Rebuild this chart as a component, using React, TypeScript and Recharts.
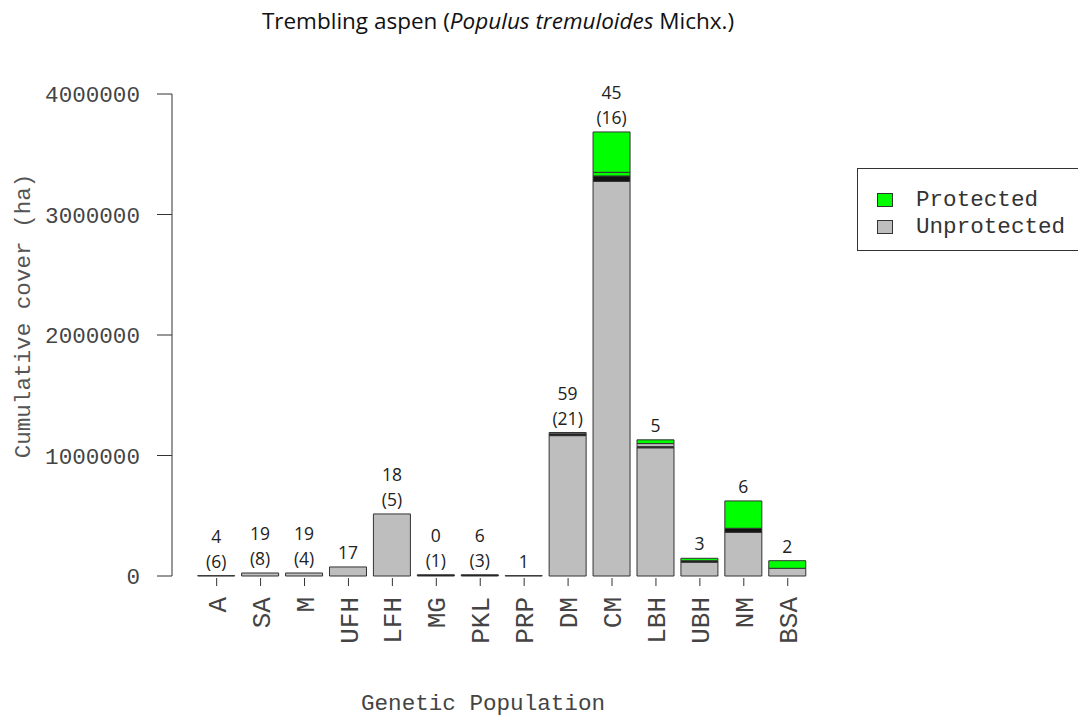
import { Bar, BarChart, LabelList, Legend, XAxis, YAxis } from 'recharts';

// genetic populations along the x axis
const populations = ['A', 'SA', 'M', 'UFH', 'LFH', 'MG', 'PKL', 'PRP', 'DM', 'CM', 'LBH', 'UBH', 'NM', 'BSA'];

// cumulative cover (ha), stacked bottom to top
const unprotectedMain = [3000, 25000, 25000, 75000, 515000, 0, 0, 3000, 1165000, 3275000, 1064000, 115000, 363000, 64000];
const slivers = [0, 0, 0, 0, 0, 10000, 10000, 0, 15000, 45000, 10000, 12000, 33000, 0];
const unprotectedUpper = [0, 0, 0, 0, 0, 0, 0, 0, 11000, 0, 25000, 0, 0, 0];
const protectedSmall = [0, 0, 0, 0, 0, 0, 0, 0, 0, 30000, 0, 0, 0, 0];
const protectedMain = [0, 0, 0, 0, 0, 0, 0, 0, 0, 335000, 31000, 20000, 227000, 63000];

// counts printed over each bar
const countUpper = ['4', '19', '19', '17', '18', '0', '6', '1', '59', '45', '5', '3', '6', '2'];
const countLower = ['(6)', '(8)', '(4)', '', '(5)', '(1)', '(3)', '', '(21)', '(16)', '', '', '', ''];

const yTicks = [0, 1000000, 2000000, 3000000, 4000000];

const legendItems = [
  { name: 'Protected', color: '#00ff00' },
  { name: 'Unprotected', color: '#bebebe' },
];

const data = populations.map((pop, i) => ({
  pop,
  unprotectedMain: unprotectedMain[i],
  slivers: slivers[i],
  unprotectedUpper: unprotectedUpper[i],
  protectedSmall: protectedSmall[i],
  protectedMain: protectedMain[i],
  total: unprotectedMain[i] + slivers[i] + unprotectedUpper[i] + protectedSmall[i] + protectedMain[i],
  counts: countLower[i] ? `${countUpper[i]}|${countLower[i]}` : countUpper[i],
}));

const MONO = '"Liberation Mono", "Courier New", monospace';
const SANS = '"Open Sans", sans-serif';
const EDGE = '#333';
const X_PAD = { left: 22.7, right: 22.7 };

function PopulationTick(props: any) {
  const { x, y, payload } = props;
  const ty = y + 21;
  return (
    <g>
      <line x1={x} x2={x} y1={y + 2} y2={y + 10} stroke={EDGE} />
      <text
        x={x}
        y={ty}
        dy="0.35em"
        transform={`rotate(-90, ${x}, ${ty})`}
        textAnchor="end"
        fontFamily={MONO}
        fontSize={26}
        fill="#444"
      >
        {payload.value}
      </text>
    </g>
  );
}

function CountLabel(props: any) {
  const { x, y, width, value } = props;
  const cx = x + width / 2;
  const lines = String(value).split('|');
  const style = { fontFamily: SANS, fontSize: 17.5, fill: '#222', textAnchor: 'middle' as const };
  if (lines.length === 2) {
    return (
      <g>
        <text x={cx} y={y - 39} dy="0.35em" {...style}>{lines[0]}</text>
        <text x={cx} y={y - 14} dy="0.35em" {...style}>{lines[1]}</text>
      </g>
    );
  }
  return <text x={cx} y={y - 14} dy="0.35em" {...style}>{lines[0]}</text>;
}

function LegendBox() {
  return (
    <div
      style={{
        width: 240,
        height: 83,
        border: `1px solid ${EDGE}`,
        boxSizing: 'border-box',
        background: '#fff',
        position: 'relative',
      }}
    >
      {legendItems.map((item, i) => (
        <div
          key={item.name}
          style={{ position: 'absolute', left: 19, top: 21 + i * 27, display: 'flex', alignItems: 'center' }}
        >
          <div style={{ width: 16, height: 14, background: item.color, border: `1px solid ${EDGE}`, boxSizing: 'border-box' }} />
          <span style={{ marginLeft: 23, fontFamily: MONO, fontSize: 22.6, color: '#333', lineHeight: '20px' }}>
            {item.name}
          </span>
        </div>
      ))}
    </div>
  );
}

export default function App() {
  return (
    <div style={{ position: 'absolute', left: 0, top: 0, width: 1078, height: 719, overflow: 'hidden', background: '#fff' }}>
      <BarChart
        width={1078}
        height={719}
        data={data}
        margin={{ top: 94, right: 245.6, bottom: 83, left: 0 }}
        barSize={37}
      >
        <XAxis
          dataKey="pop"
          height={60}
          axisLine={false}
          tickLine={false}
          tickSize={0}
          tickMargin={0}
          interval={0}
          padding={X_PAD}
          tick={<PopulationTick />}
        />
        {/* twin axis carrying the full-height bars used only to place the counts */}
        <XAxis xAxisId="counts" dataKey="pop" hide padding={X_PAD} />
        <YAxis
          width={172}
          domain={[0, 4000000]}
          ticks={yTicks}
          interval={0}
          tickSize={15}
          tickMargin={17}
          axisLine={{ stroke: EDGE }}
          tickLine={{ stroke: EDGE }}
          tick={{ fill: '#444', fontSize: 22.6, fontFamily: MONO }}
        />
        <Legend
          layout="horizontal"
          verticalAlign="middle"
          align="center"
          wrapperStyle={{ left: 857, top: 168, width: 240, height: 83 }}
          content={() => <LegendBox />}
        />
        <Bar xAxisId="counts" dataKey="total" fill="none" stroke="none" isAnimationActive={false}>
          <LabelList dataKey="counts" content={<CountLabel />} />
        </Bar>
        <Bar dataKey="unprotectedMain" stackId="cover" fill="#bebebe" stroke={EDGE} isAnimationActive={false} />
        <Bar dataKey="slivers" stackId="cover" fill="#111" stroke={EDGE} isAnimationActive={false} />
        <Bar dataKey="unprotectedUpper" stackId="cover" fill="#bebebe" stroke={EDGE} isAnimationActive={false} />
        <Bar dataKey="protectedSmall" stackId="cover" fill="#00ff00" stroke={EDGE} isAnimationActive={false} />
        <Bar dataKey="protectedMain" stackId="cover" fill="#00ff00" stroke={EDGE} isAnimationActive={false} />
      </BarChart>
      <svg
        width={1078}
        height={719}
        style={{ position: 'absolute', left: 0, top: 0, pointerEvents: 'none' }}
      >
        <text x={498} y={29} textAnchor="middle" fontFamily={SANS} fontSize={22.5} fill="#111">
          Trembling aspen (<tspan fontStyle="italic">Populus tremuloides</tspan> Michx.)
        </text>
        <text
          x={22}
          y={316}
          dy="0.35em"
          transform="rotate(-90, 22, 316)"
          textAnchor="middle"
          fontFamily={MONO}
          fontSize={22.6}
          fill="#555"
        >
          Cumulative cover (ha)
        </text>
        <text x={483} y={702} dy="0.35em" textAnchor="middle" fontFamily={MONO} fontSize={22.6} fill="#444">
          Genetic Population
        </text>
      </svg>
    </div>
  );
}
